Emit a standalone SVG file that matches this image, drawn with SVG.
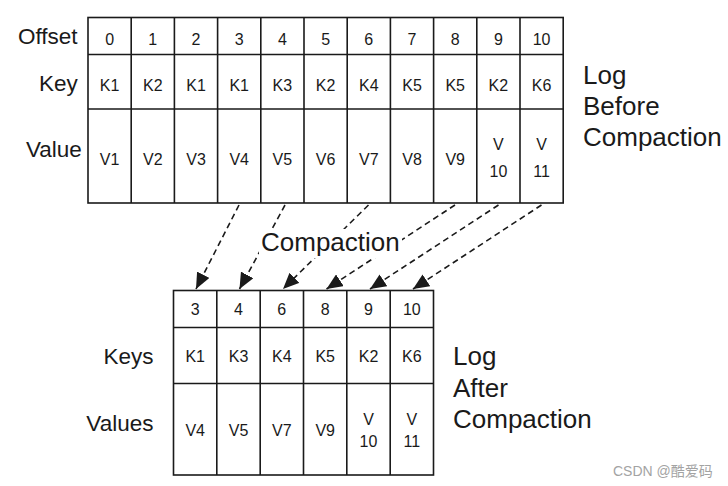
<svg xmlns="http://www.w3.org/2000/svg" width="728" height="486" viewBox="0 0 728 486">
<style>
.grid{fill:none;stroke:#1a1a1a;stroke-width:1.6}
.cell{font-family:"Liberation Sans",Arial,sans-serif;font-size:16px;fill:#1a1a1a;text-anchor:middle}
.lbl{font-family:"Liberation Sans",Arial,sans-serif;font-size:22.5px;fill:#1a1a1a}
.big{font-family:"Liberation Sans",Arial,sans-serif;font-size:26px;fill:#1a1a1a}
.conn{fill:none;stroke:#1a1a1a;stroke-width:1.6;stroke-dasharray:6 4}
.wm{font-family:"Liberation Sans",Arial,"Noto Sans CJK SC",sans-serif;font-size:14px;fill:#a3a3a3}
</style>
<defs>
<marker id="ah" markerUnits="userSpaceOnUse" markerWidth="17" markerHeight="14" refX="16" refY="7" orient="auto">
<path d="M0,0 L16,7 L0,14 z" fill="#1a1a1a"/>
</marker>
</defs>
<rect width="728" height="486" fill="#fff"/>

<g id="log-before">
<rect class="grid" x="88" y="17.5" width="475.2" height="185.5"/>
<path class="grid" d="M88,54.5H563.2M88,109H563.2M131.2,17.5V203M174.4,17.5V203M217.6,17.5V203M260.8,17.5V203M304,17.5V203M347.2,17.5V203M390.4,17.5V203M433.6,17.5V203M476.8,17.5V203M520,17.5V203"/>
<g class="cell">
<text x="109.6" y="44.5">0</text><text x="152.8" y="44.5">1</text><text x="196" y="44.5">2</text><text x="239.2" y="44.5">3</text><text x="282.4" y="44.5">4</text><text x="325.6" y="44.5">5</text><text x="368.8" y="44.5">6</text><text x="412" y="44.5">7</text><text x="455.2" y="44.5">8</text><text x="498.4" y="44.5">9</text><text x="541.6" y="44.5">10</text>
<text x="109.6" y="91">K1</text><text x="152.8" y="91">K2</text><text x="196" y="91">K1</text><text x="239.2" y="91">K1</text><text x="282.4" y="91">K3</text><text x="325.6" y="91">K2</text><text x="368.8" y="91">K4</text><text x="412" y="91">K5</text><text x="455.2" y="91">K5</text><text x="498.4" y="91">K2</text><text x="541.6" y="91">K6</text>
<text x="109.6" y="165">V1</text><text x="152.8" y="165">V2</text><text x="196" y="165">V3</text><text x="239.2" y="165">V4</text><text x="282.4" y="165">V5</text><text x="325.6" y="165">V6</text><text x="368.8" y="165">V7</text><text x="412" y="165">V8</text><text x="455.2" y="165">V9</text>
<text x="498.4" y="149.5">V</text><text x="498.4" y="176.5">10</text>
<text x="541.6" y="149.5">V</text><text x="541.6" y="176.5">11</text>
</g>
<text class="lbl" x="18" y="44">Offset</text>
<text class="lbl" x="39" y="91">Key</text>
<text class="lbl" x="26" y="157">Value</text>
<text class="big" x="583" y="84">Log</text>
<text class="big" x="583" y="115">Before</text>
<text class="big" x="583" y="146">Compaction</text>
</g>

<g id="connectors">
<line class="conn" x1="239" y1="205" x2="196" y2="289" marker-end="url(#ah)"/>
<line class="conn" x1="285" y1="205" x2="239.5" y2="289" marker-end="url(#ah)"/>
<line class="conn" x1="368.5" y1="205" x2="283" y2="289" marker-end="url(#ah)"/>
<line class="conn" x1="455" y1="205" x2="326.5" y2="289" marker-end="url(#ah)"/>
<line class="conn" x1="498.5" y1="205" x2="370" y2="289" marker-end="url(#ah)"/>
<line class="conn" x1="541.5" y1="205" x2="413" y2="289" marker-end="url(#ah)"/>
</g>

<g id="compaction-label">
<rect x="259" y="229" width="143" height="29" fill="#fff"/>
<text class="big" x="261" y="251">Compaction</text>
</g>

<g id="log-after">
<rect class="grid" x="173.5" y="290.5" width="260" height="184.5"/>
<path class="grid" d="M173.5,327.5H433.5M173.5,383.5H433.5M216.8,290.5V475M260.2,290.5V475M303.5,290.5V475M346.8,290.5V475M390.2,290.5V475"/>
<g class="cell">
<text x="195.2" y="315">3</text><text x="238.5" y="315">4</text><text x="281.8" y="315">6</text><text x="325.2" y="315">8</text><text x="368.5" y="315">9</text><text x="411.8" y="315">10</text>
<text x="195.2" y="362">K1</text><text x="238.5" y="362">K3</text><text x="281.8" y="362">K4</text><text x="325.2" y="362">K5</text><text x="368.5" y="362">K2</text><text x="411.8" y="362">K6</text>
<text x="195.2" y="436">V4</text><text x="238.5" y="436">V5</text><text x="281.8" y="436">V7</text><text x="325.2" y="436">V9</text>
<text x="368.5" y="424.5">V</text><text x="368.5" y="447">10</text>
<text x="411.8" y="424.5">V</text><text x="411.8" y="447">11</text>
</g>
<text class="lbl" x="153.5" y="364" text-anchor="end">Keys</text>
<text class="lbl" x="153.5" y="431" text-anchor="end">Values</text>
<text class="big" x="453" y="365">Log</text>
<text class="big" x="453" y="396.5">After</text>
<text class="big" x="453" y="428">Compaction</text>
</g>

<text class="wm" x="613" y="476">CSDN @酷爱码</text>
</svg>
